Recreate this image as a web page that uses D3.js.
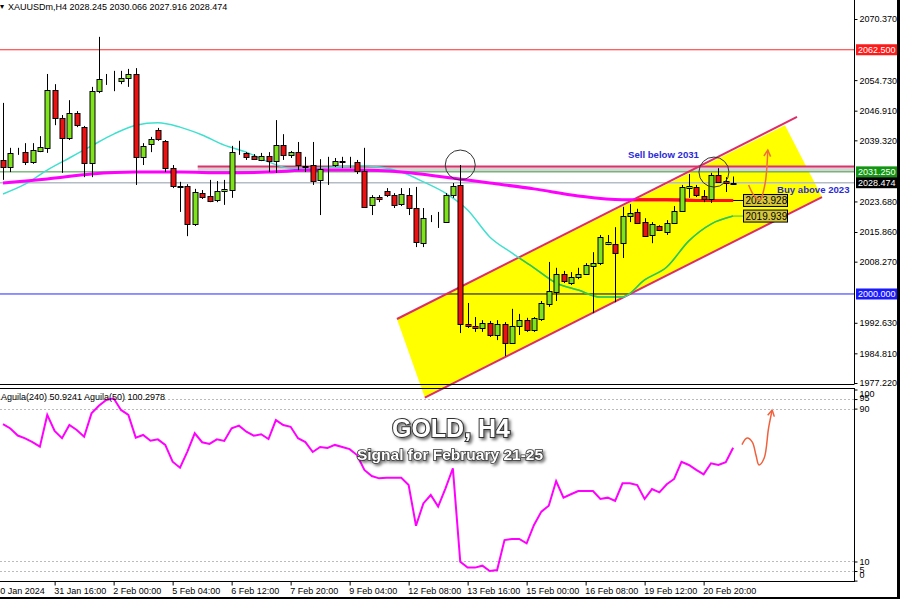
<!DOCTYPE html>
<html><head><meta charset="utf-8">
<script src="https://cdn.jsdelivr.net/npm/d3@7"></script>
<style>
html,body{margin:0;padding:0;background:#fff;}
svg{display:block;}
text{font-family:"Liberation Sans",Arial,sans-serif;}
</style></head><body>
<svg id="c" width="900" height="599"></svg>
<script>
// ---------------- DATA ----------------
const barOpen=[2034.3,2032.5,2036.1,2036.3,2033.8,2036.6,2037.4,2052.2,2045.0,2039.9,
2046.3,2042.7,2033.5,2051.9,2054.8,2054.7,2054.5,2055.3,2056.3,2035.1,
2038.4,2042.0,2039.2,2032.2,2027.6,2027.6,2017.9,2025.8,2025.1,2024.1,
2026.4,2026.6,2036.1,2036.1,2035.3,2034.3,2035.3,2034.0,2038.1,2035.6,
2036.3,2032.8,2033.0,2029.2,2032.2,2033.0,2034.0,2033.8,2033.8,2031.5,
2022.8,2024.8,2026.4,2025.3,2023.0,2025.3,2022.0,2013.0,2018.9,2018.4,
2018.4,2025.3,2027.9,1992.3,1991.8,1991.3,1992.6,1989.5,1992.3,1987.5,
1991.8,1993.3,1990.8,1993.6,1997.4,2000.5,2005.1,2002.8,2004.4,2005.1,
2007.2,2007.9,2012.8,2012.8,2013.0,2019.9,2021.0,2018.4,2015.1,2017.4,
2015.9,2018.2,2021.2,2027.1,2027.4,2025.1,2024.3,2030.5,2028.9,2028.245];
const barHigh=[2048.9,2037.4,2037.4,2038.6,2038.6,2040.4,2056.3,2053.7,2045.8,2049.6,
2046.8,2043.0,2053.0,2065.8,2056.3,2057.1,2057.1,2057.6,2057.8,2038.6,
2040.2,2042.5,2039.4,2033.0,2028.7,2028.1,2026.9,2026.6,2029.2,2028.9,
2029.2,2037.9,2039.2,2036.3,2035.8,2036.1,2036.3,2044.5,2040.9,2036.6,
2038.9,2035.1,2038.9,2034.5,2035.1,2034.8,2035.1,2035.1,2034.3,2037.4,
2025.3,2025.3,2027.1,2025.8,2027.1,2027.1,2027.4,2022.0,2020.2,2021.0,
2025.8,2028.4,2033.0,1997.7,1994.1,1993.3,1993.1,1993.3,1992.8,1996.2,
1994.9,1993.9,1994.1,1998.2,2008.2,2006.7,2005.9,2005.6,2006.7,2007.9,
2010.7,2015.1,2015.1,2017.1,2022.3,2023.0,2021.8,2019.4,2018.4,2017.6,
2018.9,2022.5,2027.9,2030.7,2027.9,2026.6,2031.0,2032.2,2029.9,2030.066];
const barLow=[2029.2,2031.2,2035.6,2033.0,2033.3,2036.3,2036.1,2043.2,2031.0,2039.4,
2042.7,2029.9,2029.9,2051.4,2053.5,2051.9,2053.7,2053.0,2027.9,2033.0,
2036.3,2039.2,2031.2,2027.1,2021.0,2014.8,2017.4,2024.3,2023.5,2023.5,
2022.8,2024.6,2035.6,2034.3,2034.3,2034.0,2031.2,2031.0,2034.3,2034.8,
2031.7,2031.2,2027.9,2020.2,2027.9,2032.5,2032.2,2032.2,2030.7,2022.0,
2020.2,2023.5,2024.8,2022.0,2022.5,2020.2,2012.0,2012.0,2018.4,2016.9,
2018.2,2024.6,1990.0,1991.3,1990.3,1990.3,1989.0,1988.2,1984.1,1987.3,
1989.5,1990.3,1990.3,1993.1,1996.7,1998.2,2002.8,2002.3,2003.8,2004.9,
1995.1,2007.4,2012.5,1997.9,2009.2,2018.4,2017.9,2014.6,2013.0,2016.1,
2015.1,2017.9,2021.0,2024.6,2024.8,2023.5,2023.3,2028.4,2026.1,2027.916];
const barClose=[2032.5,2036.1,2036.0,2033.8,2036.8,2037.6,2052.2,2045.0,2039.9,2046.3,
2043.2,2033.5,2051.9,2055.0,2054.7,2054.8,2055.3,2056.3,2035.1,2037.9,
2039.7,2039.7,2032.2,2027.6,2027.4,2017.9,2026.1,2024.8,2023.8,2026.4,
2026.9,2036.3,2036.2,2035.1,2034.5,2035.3,2034.0,2038.1,2035.6,2036.3,
2033.0,2032.6,2028.9,2032.0,2032.3,2034.0,2033.8,2033.7,2031.5,2022.3,
2024.8,2024.3,2025.3,2022.8,2025.6,2022.0,2013.3,2019.4,2018.8,2018.5,
2025.3,2027.6,1992.3,1991.8,1991.3,1992.6,1989.5,1992.3,1987.5,1991.8,
1993.3,1990.8,1993.9,1997.7,2000.8,2005.1,2003.3,2004.4,2005.1,2007.4,
2007.9,2014.6,2013.3,2010.5,2019.9,2020.7,2018.2,2014.8,2017.9,2016.4,
2018.2,2021.2,2027.4,2027.6,2025.3,2024.3,2030.5,2028.7,2028.4,2028.474];

// moving averages (bar index, price)
const maFastIdx=[0,3,6,9,12,15,18,21,24,27,30,33,36,39,42,45,48,51,54,57,60,63,66,69,72,75,78,81,84,87,90,93,96,99];
const maFastVal=[2025.6,2028.1,2031.7,2034.8,2037.9,2040.9,2043.2,2043.8,2042.7,2040.7,2038.1,2036.3,2033.8,2032.2,2032.2,2032.5,2032.8,2032.5,2031.2,2028.7,2025.8,2021.5,2014.6,2010.5,2006.7,2002.8,2001.0,1999.2,1999.2,2003.6,2006.9,2013.6,2017.9,2019.939];
const maSlowIdx=[0,6,12,18,24,30,36,42,48,54,60,66,72,78,84,90,96,99];
const maSlowVal=[2028.4,2029.4,2030.7,2031.2,2031.2,2031.0,2031.2,2031.7,2031.7,2031.2,2029.9,2028.4,2026.9,2025.1,2024.1,2024.1,2023.9,2023.928];

// oscillator (Aguila) per bar
const oscVal=[81.9,79.6,75.9,74.4,72.5,70.1,86.7,78.3,74.5,81.4,
78.8,75.3,87.5,91.5,94.5,95.4,89.3,86.7,74.8,76.2,
73.2,73.9,71.0,62.2,59.1,67.5,77.1,72.4,71.5,73.9,
73.1,79.7,81.1,77.9,75.8,76.6,74.1,84.0,81.4,80.5,
74.5,72.5,67.3,69.9,69.4,71.0,69.9,68.8,65.7,57.9,
54.7,53.5,53.8,53.8,53.8,50.0,28.7,40.4,44.8,38.7,
48.3,58.8,9.9,6.8,6.8,7.8,5.0,5.5,21.2,21.8,
21.8,19.5,29.1,36.1,39.2,52.1,43.4,45.2,46.9,46.9,
46.9,42.7,43.4,41.7,50.9,50.9,50.0,42.7,47.9,46.2,
50.4,53.2,62.2,60.5,57.9,55.6,61.4,60.5,61.9,69.5];
const oscLevels=[95,90,10,5];
const oscTicks=[100,95,90,10,5,0];

// axes
const priceTicks=[2070.370,2054.730,2046.910,2039.320,2023.680,2015.860,2008.270,1992.630,1984.810,1977.220];
const markedLevels=[2062.500,2031.250,2028.474,2000.000];
const markedColors=["#ff1a1a","#129612","#000000","#1a1aff"];
const timeTickIdx=[-1,7,15,23,31,39,47,55,63,71,79,87,95];
const timeTickLabels=["30 Jan 2024","31 Jan 16:00","2 Feb 00:00","5 Feb 04:00","6 Feb 12:00","7 Feb 20:00","9 Feb 04:00","12 Feb 08:00","13 Feb 16:00","15 Feb 00:00","16 Feb 08:00","19 Feb 12:00","20 Feb 20:00"];

// drawn objects (bar index / price)
const channelIdx=[53.42,106.03,111.05,57.2];
const channelPrice=[1993.6,2043.2,2024.8,1973.5];
const chanUpperIdx=[53.42,107.66], chanUpperPrice=[1993.6,2045.3];
const chanLowerIdx=[57.2,111.05], chanLowerPrice=[1973.5,2024.8];
const zoneStartIdx=26.4, zoneTop=2032.6, zoneBottom=2031.3;
const circleIdx=[62,96.4], circlePrice=[2033.0,2031.2];
const arrowMainIdx=[101.1,101.8,102.6,103.3,103.7], arrowMainPrice=[2027.9,2025.3,2024.0,2027.9,2036.8];
const arrowOscIdx=[100.2,100.9,101.6,102.1,102.5,103.2,103.8,104.3], arrowOscVal=[71.2,74.6,72.5,65.6,60.5,64.0,79.7,89.3];

// ---------------- SCALES ----------------
const svg=d3.select("#c");
const PR=854; // right edge of panes
const x=d3.scaleLinear().domain([0,99]).range([3,733.125]);
const y=d3.scaleLinear().domain([1977.22,2070.37]).range([383,19]);
const yi=d3.scaleLinear().domain([0,100]).range([580.6,389.5]);

svg.append("rect").attr("width",900).attr("height",599).attr("fill","#fff");
const defs=svg.append("defs");
defs.append("clipPath").attr("id","mainClip").append("rect").attr("x",0).attr("y",0).attr("width",PR).attr("height",384);
defs.append("clipPath").attr("id","indClip").append("rect").attr("x",0).attr("y",389).attr("width",PR).attr("height",192);
const chanPts=channelIdx.map((d,i)=>[x(d),y(channelPrice[i])]);
defs.append("clipPath").attr("id","chanClip").append("polygon").attr("points",chanPts.map(p=>p.join(",")).join(" "));
const flt=defs.append("filter").attr("id","shadow").attr("x","-20%").attr("y","-30%").attr("width","140%").attr("height","180%");
flt.append("feDropShadow").attr("dx",2).attr("dy",2).attr("stdDeviation",1.4).attr("flood-color","#000").attr("flood-opacity",0.55);

const hline=(g,v,c,w,x0)=>g.append("line").attr("x1",x0===undefined?0:x0).attr("x2",PR).attr("y1",y(v)).attr("y2",y(v)).attr("stroke",c).attr("stroke-width",w);

// layer 1: horizontal levels behind the channel
const back=svg.append("g").attr("clip-path","url(#mainClip)");
hline(back,2062.5,"#ff2a2a",1);
hline(back,2000,"#2424ff",1);

// layer 2: channel fill
svg.append("polygon").attr("points",chanPts.map(p=>p.join(",")).join(" ")).attr("fill","#ffff00");
const inChanA=svg.append("g").attr("clip-path","url(#chanClip)");
hline(inChanA,2000,"#000",1);

// layer 3: resistance zone and price lines
const mid=svg.append("g").attr("clip-path","url(#mainClip)");
mid.append("rect").attr("x",x(zoneStartIdx)).attr("width",PR-x(zoneStartIdx)).attr("y",y(zoneTop)).attr("height",y(zoneBottom)-y(zoneTop)).attr("fill","#d4d4d4");
hline(mid,zoneTop,"#e0306a",2,x(zoneStartIdx));
hline(mid,2031.25,"#3a9a3a",1);
hline(mid,2028.474,"#b4bcc6",1.5);

// layer 4: channel edges
const edge=(ix,pv)=>svg.append("line").attr("x1",x(ix[0])).attr("y1",y(pv[0])).attr("x2",x(ix[1])).attr("y2",y(pv[1])).attr("stroke","#dc2d68").attr("stroke-width",2);
edge(chanUpperIdx,chanUpperPrice);
edge(chanLowerIdx,chanLowerPrice);

// layer 5: moving averages
const maG=svg.append("g").attr("clip-path","url(#mainClip)");
const lineGen=d3.line().x(d=>x(d[0])).y(d=>y(d[1])).curve(d3.curveMonotoneX);
const fast=maFastIdx.map((d,i)=>[d,maFastVal[i]]);
const slow=maSlowIdx.map((d,i)=>[d,maSlowVal[i]]);
maG.append("path").attr("d",lineGen(fast)).attr("fill","none").attr("stroke","#40e0d0").attr("stroke-width",1.5);
maG.append("path").attr("d",lineGen(slow)).attr("fill","none").attr("stroke","#ff00ff").attr("stroke-width",3);
const inChanB=svg.append("g").attr("clip-path","url(#chanClip)");
inChanB.append("path").attr("d",lineGen(fast)).attr("fill","none").attr("stroke","#38c638").attr("stroke-width",1.5);
inChanB.append("path").attr("d",lineGen(slow)).attr("fill","none").attr("stroke","#ff1010").attr("stroke-width",3);

// layer 6: candles
const bars=d3.range(barOpen.length).map(i=>({i,o:barOpen[i],h:barHigh[i],l:barLow[i],c:barClose[i]}));
const cg=svg.append("g").attr("clip-path","url(#mainClip)");
cg.selectAll("line.w").data(bars).join("line").attr("class","w")
  .attr("x1",d=>Math.round(x(d.i))+0.5).attr("x2",d=>Math.round(x(d.i))+0.5)
  .attr("y1",d=>y(d.h)).attr("y2",d=>y(d.l)).attr("stroke","#000").attr("stroke-width",1);
cg.selectAll("rect.b").data(bars).join("rect").attr("class","b")
  .attr("x",d=>Math.round(x(d.i))-2)
  .attr("width",5)
  .attr("y",d=>Math.round(Math.min(y(d.o),y(d.c)))+0.5)
  .attr("height",d=>Math.max(0,Math.round(Math.abs(y(d.o)-y(d.c)))))
  .attr("fill",d=>d.c>=d.o?"#7fe31c":"#ee1111").attr("stroke","#000").attr("stroke-width",1);

// circles
circleIdx.forEach((d,i)=>svg.append("circle").attr("cx",x(d)).attr("cy",y(circlePrice[i])).attr("r",15).attr("fill","none").attr("stroke","#333").attr("stroke-width",1));

// texts
svg.append("text").attr("x",628).attr("y",y(2034.7)).attr("font-size",9.6).attr("font-weight","bold").attr("fill","#2a2ad8").text("Sell below 2031");
svg.append("text").attr("x",777).attr("y",y(2025.8)).attr("font-size",9.6).attr("font-weight","bold").attr("fill","#2a2ad8").text("Buy above 2023");

// MA end labels
const endX=x(99);
[[2023.928,"#000"],[2019.939,"#38c638"]].forEach(([v,c])=>{
  svg.append("line").attr("x1",endX).attr("x2",743).attr("y1",y(v)).attr("y2",y(v)).attr("stroke",c).attr("stroke-width",1);
  svg.append("rect").attr("x",743.5).attr("y",y(v)-6).attr("width",44).attr("height",12).attr("fill","#d6c73a").attr("stroke","#000").attr("stroke-width",1);
  svg.append("text").attr("x",745.5).attr("y",y(v)+4).attr("font-size",10).attr("fill","#000").text(v.toFixed(3));
});

// arrows
const arrow=(pts,color)=>{
  svg.append("path").attr("d",d3.line().curve(d3.curveCatmullRom)(pts)).attr("fill","none").attr("stroke",color).attr("stroke-width",1.5);
  const [a,b]=[pts[pts.length-2],pts[pts.length-1]];
  const ang=Math.atan2(b[1]-a[1],b[0]-a[0]);
  const L=7;
  const p1=[b[0]-L*Math.cos(ang-0.5),b[1]-L*Math.sin(ang-0.5)];
  const p2=[b[0]-L*Math.cos(ang+0.5),b[1]-L*Math.sin(ang+0.5)];
  svg.append("path").attr("d",`M${p1}L${b}L${p2}`).attr("fill","none").attr("stroke",color).attr("stroke-width",1.5);
};
arrow(arrowMainIdx.map((d,i)=>[x(d),y(arrowMainPrice[i])]),"#f0703c");
arrow(arrowOscIdx.map((d,i)=>[x(d),yi(arrowOscVal[i])]),"#f0603c");

// ---------------- INDICATOR ----------------
const ind=svg.append("g").attr("clip-path","url(#indClip)");
oscLevels.forEach(v=>ind.append("line").attr("x1",0).attr("x2",PR).attr("y1",Math.round(yi(v))+0.5).attr("y2",Math.round(yi(v))+0.5).attr("stroke","#bbb").attr("stroke-dasharray","2,2"));
ind.append("path").attr("d",d3.line().x((d,i)=>x(i)).y(d=>yi(d))(oscVal)).attr("fill","none").attr("stroke","#ff00ff").attr("stroke-width",2);
svg.append("text").attr("x",1).attr("y",400).attr("font-size",9).attr("fill","#000").text("Aguila(240) 50.9241  Aguila(50) 100.2978");

// titles
svg.append("text").attr("x",451).attr("y",437).attr("text-anchor","middle").attr("font-size",25).attr("font-weight","bold")
  .attr("fill","#fff").attr("stroke","#333").attr("stroke-width",2).attr("paint-order","stroke").attr("filter","url(#shadow)").text("GOLD, H4");
svg.append("text").attr("x",450).attr("y",460).attr("text-anchor","middle").attr("font-size",15.5).attr("font-weight","bold")
  .attr("fill","#fff").attr("stroke","#333").attr("stroke-width",1.6).attr("paint-order","stroke").attr("filter","url(#shadow)").text("Signal for February 21-25");

// ---------------- FRAMES & AXES ----------------
const frame=svg.append("g").attr("stroke","#000").attr("stroke-width",1);
frame.append("line").attr("x1",PR+0.5).attr("x2",PR+0.5).attr("y1",0).attr("y2",384);
frame.append("line").attr("x1",0).attr("x2",PR+0.5).attr("y1",384.5).attr("y2",384.5);
frame.append("line").attr("x1",0).attr("x2",PR+0.5).attr("y1",388.5).attr("y2",388.5);
frame.append("line").attr("x1",PR+0.5).attr("x2",PR+0.5).attr("y1",388).attr("y2",582);
frame.append("line").attr("x1",0).attr("x2",PR+0.5).attr("y1",581.5).attr("y2",581.5);
svg.append("rect").attr("x",897).attr("y",0).attr("width",3).attr("height",599).attr("fill","#000");
svg.append("rect").attr("x",0).attr("y",597).attr("width",900).attr("height",2).attr("fill","#000");

// header
svg.append("text").attr("x",0).attr("y",9).attr("font-size",8).attr("fill","#000").text("▾");
svg.append("text").attr("x",8).attr("y",10).attr("font-size",9).attr("fill","#000").text("XAUUSDm,H4  2028.245 2030.066 2027.916 2028.474");

// price axis
const pAxis=svg.append("g").attr("transform",`translate(${PR+0.5},0)`)
  .call(d3.axisRight(y).tickValues(priceTicks).tickFormat(d3.format(".3f")).tickSize(3).tickPadding(2));
pAxis.select(".domain").remove();
pAxis.selectAll("text").attr("font-size",9).attr("font-family","Liberation Sans, Arial, sans-serif").attr("fill","#000");
pAxis.selectAll("line").attr("stroke","#000");
markedLevels.forEach((v,i)=>{
  svg.append("rect").attr("x",856).attr("y",y(v)-5.5).attr("width",41).attr("height",11).attr("fill",markedColors[i]);
  svg.append("text").attr("x",858).attr("y",y(v)+3.5).attr("font-size",9).attr("fill","#fff").text(v.toFixed(3));
});

// oscillator axis
const oAxis=svg.append("g").attr("transform",`translate(${PR+0.5},0)`)
  .call(d3.axisRight(yi).tickValues(oscTicks).tickFormat(d3.format("d")).tickSize(3).tickPadding(2));
oAxis.select(".domain").remove();
oAxis.selectAll("line").attr("stroke","#000");
oAxis.selectAll("text").attr("font-size",9).attr("font-family","Liberation Sans, Arial, sans-serif").attr("fill","#000")
  .attr("dy",function(d){const yy=yi(d);const cl=Math.max(393,Math.min(574,yy));return (cl-yy+(d===95||d===5?-1.5:0)+3)+"px";});

// time axis
const tAxis=svg.append("g").attr("transform","translate(0,581.5)")
  .call(d3.axisBottom(x).tickValues(timeTickIdx).tickFormat((d,i)=>timeTickLabels[i]).tickSize(4).tickPadding(2));
tAxis.select(".domain").remove();
tAxis.selectAll("line").attr("stroke","#000");
tAxis.selectAll("text").attr("font-size",9).attr("font-family","Liberation Sans, Arial, sans-serif").attr("fill","#000").attr("text-anchor","start").attr("dx","-1");
</script>
</body></html>
